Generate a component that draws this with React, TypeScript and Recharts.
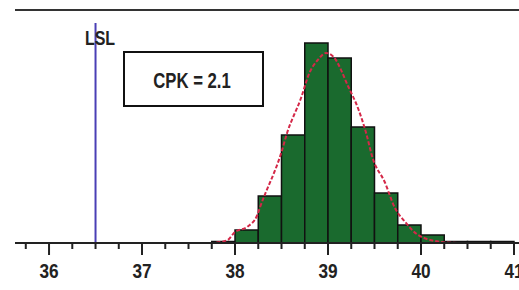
import React from "react";
import {
  ComposedChart,
  XAxis,
  YAxis,
  Line,
  ReferenceArea,
  ReferenceLine,
} from "recharts";

// Histogram bins (start of each 0.25-wide bin) and counts
const binStarts = [37.75, 38, 38.25, 38.5, 38.75, 39, 39.25, 39.5, 39.75, 40, 40.25, 40.5, 40.75];
const binCounts = [1.5, 13, 47, 108, 200, 185, 116, 50, 18, 8, 1.5, 1.5, 1.5];
const binWidth = 0.25;

// Fitted normal curve points
const curveX = [37.8, 37.92, 38.0, 38.13, 38.24, 38.27, 38.5, 38.56, 38.71, 38.8, 38.89, 38.98, 39.06, 39.22, 39.33, 39.41, 39.48, 39.61, 39.72, 39.83, 39.97, 40.22, 40.4];
const curveY = [0.5, 3, 11, 16, 28, 36, 91, 110, 145, 170, 183, 190, 186, 156, 133, 110, 85, 61, 35, 21, 8, 1, 0];

const tickValues = [35.75, 36, 36.25, 36.5, 36.75, 37, 37.25, 37.5, 37.75, 38, 38.25, 38.5, 38.75, 39, 39.25, 39.5, 39.75, 40, 40.25, 40.5, 40.75, 41];

const lslValue = 36.5;
const lslLabel = "LSL";
const cpkLabel = "CPK = 2.1";

const curveData = curveX.map((x, i) => ({ x, y: curveY[i] }));

const FONT = "'Liberation Sans', Arial, sans-serif";

const Tick = (props: any) => {
  const { x, y, payload } = props;
  const v = payload.value as number;
  const major = Math.abs(v - Math.round(v)) < 1e-6;
  return (
    <g>
      <line x1={x} x2={x} y1={y} y2={y + (major ? 12 : 6)} stroke="#222" strokeWidth={2} />
      {major && (
        <text
          transform={`translate(${x}, ${y + 35}) scale(0.82, 1)`}
          textAnchor="middle"
          fontFamily={FONT}
          fontWeight="bold"
          fontSize={21}
          fill="#222"
        >
          {String(Math.round(v))}
        </text>
      )}
    </g>
  );
};

export default function App() {
  return (
    <div style={{ position: "absolute", left: 0, top: 0, width: 519, height: 290, background: "#fff" }}>
      <ComposedChart width={519} height={290} margin={{ top: 10, right: 0, bottom: 0, left: 15 }}>
        <XAxis
          dataKey="x"
          type="number"
          domain={[35.634, 41.054]}
          ticks={tickValues}
          interval={0}
          height={47}
          tickLine={false}
          tickSize={0}
          tickMargin={0}
          axisLine={{ stroke: "#222", strokeWidth: 2 }}
          tick={<Tick />}
          allowDataOverflow
        />
        <YAxis
          type="number"
          domain={[0, 233]}
          width={0}
          tick={false}
          tickLine={false}
          axisLine={{ stroke: "#333", strokeWidth: 2 }}
          allowDataOverflow
        />
        <ReferenceLine y={233} stroke="#333" strokeWidth={2} />
        {binStarts.map((s, i) => (
          <ReferenceArea
            key={i}
            x1={s}
            x2={s + binWidth}
            y1={0}
            y2={binCounts[i]}
            fill="#1a6a2e"
            fillOpacity={1}
            stroke="#111"
            strokeWidth={1.5}
          />
        ))}
        <ReferenceLine
          segment={[{ x: lslValue, y: 0 }, { x: lslValue, y: 220 }]}
          stroke="#4a3fb5"
          strokeWidth={2}
        />
        <Line
          data={curveData}
          dataKey="y"
          type="monotone"
          stroke="#d42848"
          strokeWidth={2}
          strokeDasharray="4 2"
          dot={false}
          isAnimationActive={false}
        />
      </ComposedChart>
      <svg
        width={519}
        height={290}
        style={{ position: "absolute", left: 0, top: 0, pointerEvents: "none" }}
      >
        <text
          transform="translate(100, 45) scale(0.82, 1)"
          textAnchor="middle"
          fontFamily={FONT}
          fontWeight="bold"
          fontSize={19.5}
          fill="#222"
        >
          {lslLabel}
        </text>
        <rect x={124} y={52} width={139} height={54} fill="#fff" stroke="#111" strokeWidth={2} />
        <text
          transform="translate(192, 88) scale(0.76, 1)"
          textAnchor="middle"
          fontFamily={FONT}
          fontWeight="bold"
          fontSize={22}
          fill="#222"
        >
          {cpkLabel}
        </text>
      </svg>
    </div>
  );
}
